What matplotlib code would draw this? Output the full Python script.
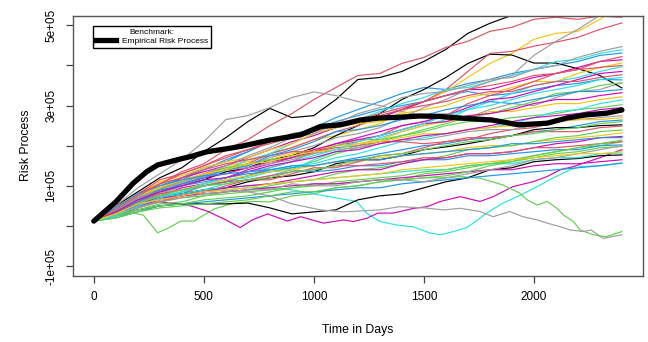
import matplotlib
matplotlib.use("Agg")
import matplotlib.pyplot as plt
from matplotlib.lines import Line2D

plt.rcParams["font.family"] = ["Liberation Sans", "DejaVu Sans"]

# R 4.x default palette
BLACK = "black"
RED = "#DF536B"
GREEN = "#61D04F"
BLUE = "#2297E6"
CYAN = "#28E2E5"
MAGENTA = "#CD0BBC"
YELLOW = "#F5C710"
GRAY = "#9E9E9E"

SCALE = 1e4  # path values below are in units of 10,000

# most simulated paths every 100 days
DAYS = [0, 100, 200, 300, 400, 500, 600, 700, 800, 900, 1000, 1100, 1200,
        1300, 1400, 1500, 1600, 1700, 1800, 1900, 2000, 2100, 2200, 2300, 2400]

red_top = [1.2, 4.5, 7.5, 10.5, 13.5, 15.5, 19, 21.5, 25, 28, 31.5, 34.5, 37.5, 38, 40.5, 42, 44.5, 46, 48.5, 49.5, 51.5, 52, 51.5, 52.3, 52]
black_a = [1.2, 5, 8.5, 12, 14.5, 18.5, 22, 26, 29.3, 27, 27.5, 31.5, 36.5, 37, 38.5, 41, 44, 48, 50.5, 52.5, 54.5, 56, 57.5, 59, 61]
gray_early = [1.2, 5, 9.5, 13, 16.5, 21, 26.5, 27.5, 29.5, 32, 33.4, 32.5, 31, 30, 28.5, 27.5, 28, 27, 29, 30.5, 30, 32, 33.5, 34, 35.7]
gray_top = [1.2, 3.5, 6, 8, 10, 12.5, 14, 15, 17, 18.5, 20, 22, 23, 24.5, 27, 29.5, 31.5, 34, 36, 37.5, 42.5, 46, 49, 52.5, 56]
yellow_top = [1.2, 3.5, 6.5, 9, 11, 12.5, 15, 16, 18, 19.5, 21.5, 22.5, 24, 25.5, 28.5, 31, 33.5, 37, 40.5, 43, 46.5, 48, 48.5, 51.5, 55]
red_2 = [1.2, 3, 5.5, 8, 10, 12.5, 14, 15.5, 18, 19.5, 21.5, 23.5, 25, 27, 29, 31, 34, 38.5, 43, 43.5, 44.8, 45.8, 47, 49, 50.6]
black_b = [1.2, 3.5, 6, 8.5, 10, 11.5, 13.5, 14.5, 16.5, 17.5, 19.5, 22.5, 25, 28, 31.5, 34, 37, 40.5, 42.8, 42.6, 40.6, 40.6, 39.2, 37.5, 34.4]
black_low1 = [1.2, 2.5, 4, 5, 5.5, 5.5, 5.5, 5.7, 4.5, 3, 3.5, 4, 6.5, 7.5, 8, 9.5, 11, 12, 14, 14.5, 16, 16.5, 16.8, 17.5, 17.7]
black_low2 = [1.2, 3.5, 5.5, 7, 8, 9, 9.5, 11, 12, 12.5, 13.5, 15.5, 16.5, 16.5, 17.5, 19, 19.7, 20.5, 21.5, 22.5, 24, 24.5, 24.5, 25, 25.2]

# the isolated low paths are read at their own turning points
green_low_days = [0, 100, 180, 225, 290, 340, 395, 455, 545, 635, 725, 800, 900, 1000,
                  1100, 1200, 1300, 1400, 1500, 1600, 1700, 1800, 1900, 2000, 2100, 2200, 2300, 2400]
green_low = [1.2, 2.5, 3.2, 2.7, -1.7, -0.5, 1.2, 1.2, 4.2, 5.7, 6.1, 6, 7.5, 8,
             9.5, 10, 11, 11.5, 13, 13.5, 14.5, 15.5, 16.5, 17.5, 18.5, 19.5, 20, 21]
magenta_low_days = [0, 100, 200, 300, 380, 440, 515, 600, 665, 720, 790, 880, 940, 1045, 1135, 1180,
                    1240, 1290, 1360, 1455, 1515, 1575, 1665, 1755, 1815, 1905, 1995, 2060, 2120, 2180, 2300, 2400]
magenta_low = [1.2, 3.5, 5, 6, 5.5, 5, 3.7, 1.5, -0.4, 1.5, 3, 1.2, 2.3, 0.7, 1.5, 1.1,
               1.9, 3.2, 3.2, 4.4, 4.8, 6.1, 7.3, 6.1, 7.3, 9.8, 11, 12.3, 14, 14.8, 17, 19]
cyan_low_days = [0, 100, 200, 300, 400, 500, 600, 700, 800, 900, 1000, 1100, 1195, 1240, 1300, 1380,
                 1450, 1530, 1575, 1635, 1695, 1725, 1785, 1860, 1925, 2015, 2085, 2165, 2210, 2300, 2400]
cyan_low = [1.2, 3, 5, 6, 7.5, 8.5, 9, 9.5, 9.5, 9, 8, 7, 6.1, 3.2, 1.1, 0.2,
            -0.2, -1.8, -2.2, -1.4, -0.4, 0.7, 3.2, 5.7, 7.3, 9.8, 11.9, 14, 14.8, 15, 15.6]
gray_low_days = [0, 100, 200, 300, 400, 500, 600, 700, 800, 900, 1030, 1135, 1300, 1390, 1500,
                 1590, 1665, 1755, 1815, 1890, 1950, 2015, 2060, 2120, 2165, 2225, 2260, 2315, 2400]
gray_low = [1.2, 3, 5, 6.5, 7.5, 8.5, 9, 8.5, 7.5, 5.5, 4, 3.5, 4, 4.8, 4.5,
            4, 4.4, 3.6, 2.3, 3.6, 2.3, 1.5, 0.7, -0.2, -1, -1.4, -1, -3.1, -2.2]
green_low2_days = [0, 100, 200, 300, 400, 500, 600, 700, 800, 900, 1000, 1100, 1200, 1300, 1400, 1500,
                   1600, 1665, 1755, 1860, 1935, 1970, 2015, 2060, 2105, 2135, 2180, 2210, 2270, 2330, 2400]
green_low2 = [1.2, 3.5, 5, 6, 7, 7.5, 8, 8.5, 9, 9.5, 10.5, 10.5, 11, 11.5, 11.5, 12,
              12, 12.3, 11.9, 10.2, 8.2, 6.5, 5.2, 6.1, 4.4, 2.7, 1.1, -1, -2.2, -2.7, -1.4]

mid_01 = [1.2, 3.5, 6.5, 9.5, 10.5, 13, 15, 17.5, 19.5, 22, 23, 25.5, 28, 29.5, 32, 33, 33.5, 35, 36.5, 37, 39, 40, 42, 43.5, 44.7]
mid_02 = [1.2, 3, 5.5, 8, 10, 12, 14, 16.5, 18, 20.5, 23, 24.5, 26.5, 28.5, 30.5, 32, 34, 34.5, 36, 37.5, 39, 41, 41.5, 43, 43.9]
mid_03 = [1.2, 4, 7, 9, 11.5, 14, 16.5, 18.5, 21, 22.5, 24.5, 27, 29, 31, 33, 34.5, 34, 35.5, 36.5, 38, 39, 40, 41, 42.5, 43.1]
mid_04 = [1.2, 2.5, 5, 7.5, 8, 10, 11, 12.5, 14.5, 16, 18.5, 20, 21, 22.5, 25, 26, 27.5, 30.5, 32.5, 34, 36, 38, 39, 41, 42.2]
mid_05 = [1.2, 3.5, 6.5, 9, 12, 13.5, 15, 17, 19, 21, 22.5, 24.5, 26, 27, 29, 31, 32.5, 34, 34, 35.5, 37, 38, 39.5, 41, 41.4]
mid_06 = [1.2, 4.5, 8, 11, 12.5, 14.5, 16, 17, 19, 20.5, 23, 24.5, 25.5, 26, 28, 29, 30, 32, 33, 34.5, 36, 36, 38, 39.5, 40.6]
mid_07 = [1.2, 2.5, 4.5, 6.5, 7.5, 9, 10.5, 11.5, 12.5, 14, 16.5, 18.5, 20, 22, 23.5, 25, 26.5, 29, 31, 33, 35, 36, 37, 38.5, 39.7]
mid_08 = [1.2, 3, 5.5, 7.5, 9.5, 10.5, 12, 14, 15.5, 17, 18.5, 20.5, 22, 23.5, 25, 26, 27.5, 29.5, 31.5, 32, 33.5, 35, 36.5, 38, 38.5]
mid_09 = [1.2, 4.5, 8, 11.5, 13, 15, 17.5, 19, 21, 23, 23.5, 25, 26, 27.5, 29, 30, 31, 32.5, 33.5, 33.5, 35, 36, 36, 37, 37.7]
mid_10 = [1.2, 3.5, 7, 10, 12, 14.5, 16, 18.5, 21, 23, 24, 26, 27.5, 29, 30, 31, 32.5, 33.5, 32.5, 33, 34, 35, 35.5, 36.5, 36.4]
mid_11 = [1.2, 3, 5, 7, 8.5, 10, 11, 12.5, 13.5, 14.5, 16, 18, 19.5, 21, 22.5, 24, 25.5, 27, 28, 29.5, 31, 33, 33.5, 35, 35.7]
mid_12 = [1.2, 3.5, 6.5, 8.5, 10.5, 12, 13, 14.5, 16, 17, 19, 20.5, 21.5, 22.5, 24, 25.5, 26, 27.5, 28, 29, 30.5, 31.5, 31.5, 32.5, 33.2]
mid_13 = [1.2, 4, 7.5, 10, 11, 13, 14.5, 15.5, 16.5, 18, 19, 20, 20.5, 21.5, 23.5, 25, 26, 27, 28.5, 28.5, 29.5, 30.5, 30.5, 31.5, 32.2]
mid_14 = [1.2, 3, 5.5, 7.5, 8.5, 10, 11.5, 12, 13.5, 15, 15.5, 17, 18, 19.5, 21, 22, 23, 24, 24.5, 25.5, 27, 28.5, 29, 30.5, 31.4]
mid_15 = [1.2, 3.5, 6.5, 9, 11, 13, 14.5, 15.5, 16.5, 17, 18, 20, 21.5, 21.5, 22.5, 23.5, 25, 26, 26, 27, 27.5, 28, 29, 29.5, 30.2]
mid_16 = [1.2, 2.5, 4.5, 6, 7.5, 8.5, 10, 11.5, 11.5, 13, 14.5, 14.5, 16, 17.5, 18, 19.5, 21, 21.5, 23, 24, 24.5, 26, 27.5, 27.5, 28.5]
mid_17 = [1.2, 3.5, 7, 9.5, 11, 13, 14, 14.5, 15.5, 16.5, 18, 19, 19.5, 20.5, 21.5, 21.5, 22.5, 23.5, 24, 24, 25, 26, 26.5, 27, 27.5]
mid_18 = [1.2, 3, 5, 7, 8.5, 10, 11, 12.5, 14, 14.5, 15, 16, 17, 18, 19, 20, 20.5, 21.5, 22, 22.5, 23.5, 24, 25, 26, 26.4]
mid_19 = [1.2, 4.5, 8, 10.5, 12, 14, 15.5, 16.5, 17.5, 18.5, 18.5, 19.5, 20, 21, 21, 20.5, 21, 22, 22, 22.5, 23.5, 23.5, 23.5, 24.5, 24.9]
mid_20 = [1.2, 3, 6, 8, 9, 10.5, 11.5, 12.5, 13.5, 14, 15, 16, 16, 17, 17.5, 18, 18.5, 19.5, 20, 20, 21, 21.5, 22, 22.5, 23.2]
mid_21 = [1.2, 2.5, 4, 5.5, 6, 7.5, 8.5, 9, 10, 11, 11.5, 13, 14, 14.5, 15.5, 16.5, 17.5, 19, 19.5, 20, 21, 22, 22.5, 23.5, 23.9]
mid_22 = [1.2, 3, 5, 6.5, 7.5, 8.5, 9.5, 10, 10.5, 11.5, 12.5, 13.5, 14, 14, 15.5, 16.5, 17, 18, 18, 18.5, 19.5, 20.5, 21, 22, 22.3]
mid_23 = [1.2, 3.5, 6, 8, 9, 10, 11, 11.5, 12.5, 13.5, 14, 15, 15, 15.5, 16, 17, 17, 18, 18, 18.5, 19.5, 19.5, 20, 20.5, 21]
mid_24 = [1.2, 2.5, 4, 5, 5.5, 6.5, 7, 7.5, 8.5, 9.5, 10, 11, 11.5, 12, 12.5, 13.5, 14, 15, 15.5, 16, 17, 18, 18.5, 19.5, 19.8]
mid_25 = [1.2, 4, 7, 9, 10, 11, 12, 13, 13.5, 14, 13.5, 14, 15, 15, 16, 16.5, 16.5, 17.5, 17.5, 18, 18.5, 19, 19, 20, 20.2]
mid_26 = [1.2, 3, 5, 7, 8, 9, 9.5, 10, 10.5, 11, 11.5, 12, 12.5, 13, 13.5, 14, 14, 15, 15.5, 15.5, 16.5, 17, 17, 18, 18.2]
mid_27 = [1.2, 2, 3.5, 5, 5.5, 6, 6.5, 7, 7.5, 8, 8.5, 9, 9.5, 9.5, 10.5, 11, 11.5, 12, 12.5, 13, 13.5, 14, 14.5, 15, 15.7]
mid_28 = [1.2, 3.5, 5.5, 7, 7.5, 8, 8.5, 9, 9.5, 10, 10.5, 10.5, 11, 11.5, 12, 12.5, 13, 13.5, 14, 14, 15, 15.5, 15.5, 16, 16.5]
mid_29 = [1.2, 2, 3.5, 4.5, 5, 5.5, 6, 6.5, 7.5, 8.5, 8.5, 9.5, 10, 11, 11.5, 12, 12.5, 13.5, 15, 16, 17.5, 18.5, 19.5, 20.5, 21.4]
mid_30 = [1.2, 3, 4.5, 6, 7, 8, 8.5, 9, 9, 10.5, 10, 10, 11, 11.5, 11.5, 11, 12, 13, 14, 15, 16.5, 17, 18, 19, 20]
mid_31 = [1.2, 3.5, 6, 8.5, 10.5, 12, 14, 15, 17.5, 19, 21, 23.5, 24, 25, 26.5, 27.5, 29, 30, 31, 30.5, 31.5, 32.5, 33.5, 33.5, 34]
mid_32 = [1.2, 4, 7.5, 9.5, 11.5, 13, 14, 15.5, 16, 17.5, 18.5, 19, 20.5, 21, 22, 23, 23, 24, 24.5, 25, 25.5, 26, 26.5, 26.5, 27]
mid_33 = [1.2, 2.5, 5, 7, 8.5, 10.5, 12, 13.5, 14.5, 16, 17.5, 19, 21, 22.5, 24, 25.5, 27.5, 29, 30, 31.5, 33, 34, 35, 36.5, 37]
mid_34 = [1.2, 3.5, 6.5, 8.5, 10, 11.5, 12, 13.5, 15, 16, 17, 18.5, 19, 20.5, 21.5, 22.5, 23, 24, 25, 26, 27, 27.5, 28, 29, 29.5]
mid_35 = [1.2, 3, 5.5, 7.5, 9, 10, 10.5, 11.5, 12, 13.5, 14, 15, 16.5, 17.5, 18, 19, 20, 21, 21.5, 22.5, 23, 24, 24.5, 25.5, 26]
mid_36 = [1.2, 4.5, 8, 10, 11.5, 12.5, 13, 13.5, 14, 15, 15, 16, 16.5, 16.5, 17.5, 18, 18.5, 19, 19.5, 20.5, 20.5, 21, 21.5, 22, 22]
mid_37 = [1.2, 4, 7.5, 10.5, 13, 15, 17, 19, 20.5, 22, 24, 25.5, 26.5, 28, 29.5, 31, 32.5, 34, 35, 36, 37.5, 38, 39, 39.5, 40]
mid_38 = [1.2, 3, 5.5, 6.5, 7.5, 8.5, 9, 9.5, 10.5, 11, 11.5, 12, 12.5, 13, 14, 14.5, 15, 15.5, 16, 16.5, 17, 17.5, 18, 18, 18.5]

PATHS = [
    (DAYS, black_a, BLACK), (DAYS, red_top, RED), (green_low_days, green_low, GREEN),
    (DAYS, mid_03, BLUE), (cyan_low_days, cyan_low, CYAN),
    (magenta_low_days, magenta_low, MAGENTA), (DAYS, yellow_top, YELLOW),
    (DAYS, gray_early, GRAY), (DAYS, black_b, BLACK), (DAYS, red_2, RED),
    (green_low2_days, green_low2, GREEN), (DAYS, mid_10, BLUE), (DAYS, mid_02, CYAN),
    (DAYS, mid_05, MAGENTA), (DAYS, mid_06, YELLOW), (DAYS, gray_top, GRAY),
    (DAYS, black_low1, BLACK), (DAYS, mid_04, RED), (DAYS, mid_11, GREEN),
    (DAYS, mid_18, BLUE), (DAYS, mid_07, CYAN), (DAYS, mid_08, MAGENTA),
    (DAYS, mid_13, YELLOW), (gray_low_days, gray_low, GRAY), (DAYS, black_low2, BLACK),
    (DAYS, mid_09, RED), (DAYS, mid_15, GREEN), (DAYS, mid_25, BLUE), (DAYS, mid_14, CYAN),
    (DAYS, mid_12, MAGENTA), (DAYS, mid_20, YELLOW), (DAYS, mid_01, GRAY),
    (DAYS, mid_16, RED), (DAYS, mid_21, GREEN), (DAYS, mid_27, BLUE), (DAYS, mid_26, CYAN),
    (DAYS, mid_22, MAGENTA), (DAYS, mid_17, GRAY), (DAYS, mid_19, RED), (DAYS, mid_24, GREEN),
    (DAYS, mid_28, MAGENTA), (DAYS, mid_23, RED), (DAYS, mid_29, GREEN), (DAYS, mid_30, GRAY),
    (DAYS, mid_31, BLUE), (DAYS, mid_32, YELLOW), (DAYS, mid_33, CYAN), (DAYS, mid_34, MAGENTA),
    (DAYS, mid_35, GREEN), (DAYS, mid_36, BLUE), (DAYS, mid_37, RED), (DAYS, mid_38, YELLOW),
]

# benchmark: empirical risk process
BM_DAYS = [0, 100, 180, 240, 290, 380, 440, 515, 600, 665, 800, 900, 940, 1030, 1120, 1210,
           1300, 1390, 1480, 1570, 1660, 1750, 1810, 1930, 2060, 2150, 2240, 2330, 2400]
BM_VALS = [1.2, 6, 10.7, 13.5, 15.2, 16.5, 17.3, 18.5, 19.2, 19.8, 21.4, 22.3, 22.7, 24.8, 25.2, 26.4,
           26.9, 27.1, 27.4, 27.3, 26.9, 26.6, 26.4, 25.2, 25.6, 26.9, 27.7, 28.1, 28.9]

Y_TICKS = [-1e5, 0, 1e5, 2e5, 3e5, 4e5, 5e5]
Y_LABELS = ["-1e+05", "", "1e+05", "", "3e+05", "", "5e+05"]
X_TICKS = [0, 500, 1000, 1500, 2000]

fig = plt.figure(figsize=(6.48, 3.42), dpi=100)
ax = fig.add_axes([0.1122, 0.1939, 0.8801, 0.7602])

for days, vals, col in PATHS:
    ax.plot(days, [v * SCALE for v in vals], color=col, lw=0.85)
ax.plot(BM_DAYS, [v * SCALE for v in BM_VALS], color="black", lw=3.8,
        solid_capstyle="round", solid_joinstyle="round")

ax.set_xlim(-96, 2496)
ax.set_ylim(-124000, 524000)
ax.set_xticks(X_TICKS)
ax.set_xticklabels([str(t) for t in X_TICKS], fontsize=8.5)
ax.set_yticks(Y_TICKS)
ax.set_yticklabels(Y_LABELS, fontsize=8.5, rotation=90, va="center")
ax.tick_params(length=5, width=0.9, color="#444444", pad=6)
for sp in ax.spines.values():
    sp.set_color("#555555")
    sp.set_linewidth(1.0)

ax.set_xlabel("Time in Days", fontsize=8.8, labelpad=15)
ax.set_ylabel("Risk Process", fontsize=8.8, labelpad=10)

handle = Line2D([], [], color="black", lw=3.8)
leg = ax.legend([handle], ["Empirical Risk Process"], title="Benchmark:",
                loc="upper left", bbox_to_anchor=(0.035, 0.9615), borderaxespad=0,
                fontsize=6, title_fontsize=6, fancybox=False, framealpha=1,
                edgecolor="black", handlelength=2.4, borderpad=0.35,
                labelspacing=0.2, handletextpad=0.8)
leg.get_frame().set_linewidth(1.0)

fig.savefig("out.png", dpi=100)
